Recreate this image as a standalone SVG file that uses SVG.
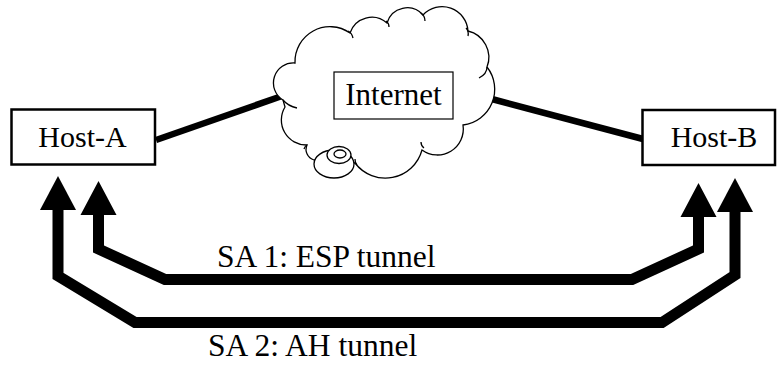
<svg xmlns="http://www.w3.org/2000/svg" width="777" height="368" viewBox="0 0 777 368">
  <style>
    .box { fill: #fff; stroke: #000; stroke-width: 2.5; }
    .label { font-family: "Liberation Serif", "Times New Roman", serif; fill: #000; }
    .link { stroke: #000; stroke-width: 6.5; fill: none; }
    .sa { stroke: #000; stroke-width: 11; fill: none; stroke-linejoin: miter; marker-start: url(#head); marker-end: url(#head); }
    .cloud { fill: #fff; stroke: #000; stroke-width: 1.3; }
    .curl { fill: none; stroke: #000; stroke-width: 1.3; }
  </style>
  <defs>
    <marker id="head" markerUnits="userSpaceOnUse" markerWidth="36" markerHeight="36" viewBox="0 0 34 35" refX="1" refY="17.5" orient="auto-start-reverse" overflow="visible">
      <path d="M0,0 L33,17.5 L0,35 Z" fill="#000"/>
    </marker>
  </defs>
  <rect width="777" height="368" fill="#fff"/>

  <!-- connectors: physical links and security associations -->
  <g id="connectors">
    <line class="link" x1="156" y1="140" x2="282" y2="96"/>
    <line class="link" x1="488" y1="98" x2="643" y2="139"/>
    <path id="sa1" class="sa" d="M98.5,214 L98.5,249 L165,279.5 L632,279.5 L698.5,249 L698.5,216"/>
    <path id="sa2" class="sa" d="M58,209 L58,276 L135,322.5 L662,322.5 L735,275 L735,211"/>
  </g>

  <!-- internet cloud -->
  <g id="internet">
    <path class="cloud" d="M283,100 A20,20 0 0 1 295,63 A35,35 0 0 1 350,33 A23,23 0 0 1 387,23 A21,21 0 0 1 423,15 A26,26 0 0 1 468,31 A27,27 0 0 1 487,67 A36,36 0 0 1 463,125 A26,26 0 0 1 422,150 A38,38 0 0 1 355,163 L314,160 A11,11 0 0 1 307,145 A25,25 0 0 1 285,107 Z"/>
    <path class="curl" d="M348,31 q4,2 5,7 M386,21 q3,2 3,6 M421,13 q4,3 4,8 M466,28 q3,3 2,8 M487,67 q0,7 -8,11 M424,148 q-3,-2 -3,-6 M357,165 q-2,-2 -2,-6 M307,145 q-2,1 -3,4 M283,100 q5,6 14,8"/>
    <ellipse class="cloud" cx="334" cy="164" rx="20" ry="14"/>
    <ellipse class="cloud" cx="339" cy="155" rx="12" ry="8.5"/>
    <ellipse class="cloud" cx="340" cy="154" rx="6" ry="4"/>
    <rect x="334" y="72" width="119" height="47" fill="#fff" stroke="#000" stroke-width="1.2"/>
    <text class="label" x="393.5" y="105" font-size="31" text-anchor="middle">Internet</text>
  </g>

  <g id="host-a">
    <rect class="box" x="11.5" y="109.5" width="143.5" height="55"/>
    <text class="label" x="82.5" y="147" font-size="30" text-anchor="middle">Host-A</text>
  </g>

  <g id="host-b">
    <rect class="box" x="642.5" y="110" width="132.5" height="55"/>
    <text class="label" x="714" y="147" font-size="30" text-anchor="middle">Host-B</text>
  </g>

  <g id="sa-labels">
    <text class="label" x="217" y="267" font-size="31.5">SA 1: ESP tunnel</text>
    <text class="label" x="208" y="356" font-size="31.5">SA 2: AH tunnel</text>
  </g>
</svg>
